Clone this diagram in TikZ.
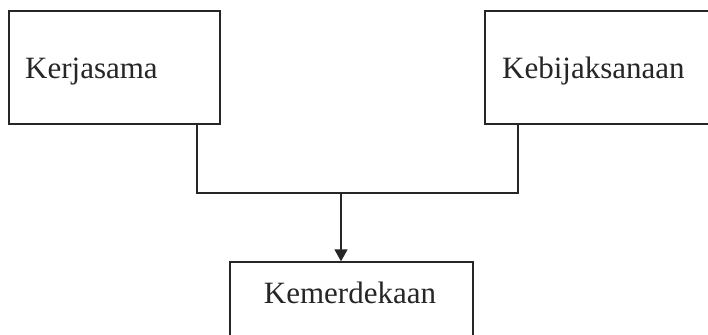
\documentclass[tikz,border=0pt]{standalone}
\usepackage{fontspec}
\setmainfont{Liberation Serif}
\usetikzlibrary{arrows.meta}
\begin{document}
\begin{tikzpicture}[x=1pt,y=-1pt,
  box/.style={draw=black!85,line width=1.3pt,inner sep=0pt},
  lbl/.style={font=\fontsize{31}{31}\selectfont,text=black!85,inner sep=0pt,anchor=base west},
  conn/.style={draw=black!85,line width=1.3pt}]
\useasboundingbox (0,0) rectangle (708,334);
\clip (0,0) rectangle (708,334);
\node[box,minimum width=211pt,minimum height=113pt] (kerja) at (114.5,67.5) {};
\node[box,minimum width=240pt,minimum height=113pt] (kebij) at (605,67.5) {};
\node[box,minimum width=243pt,minimum height=80pt] (merdeka) at (351.5,302) {};
\node[lbl] (t1) at (25,79) {Kerjasama};
\node[lbl] (t2) at (502,79) {Kebijaksanaan};
\node[lbl,anchor=base] (t3) at (350,303) {Kemerdekaan};
\coordinate (j1) at (197,193);
\coordinate (j2) at (518,193);
\coordinate (jm) at (341,193);
\draw[conn] (kerja.south -| j1) -- (j1) -- (j2) -- (kebij.south -| j2);
\draw[conn,-{Triangle[length=12pt,width=13pt]}] (jm) -- (merdeka.north -| jm);
\end{tikzpicture}
\end{document}
